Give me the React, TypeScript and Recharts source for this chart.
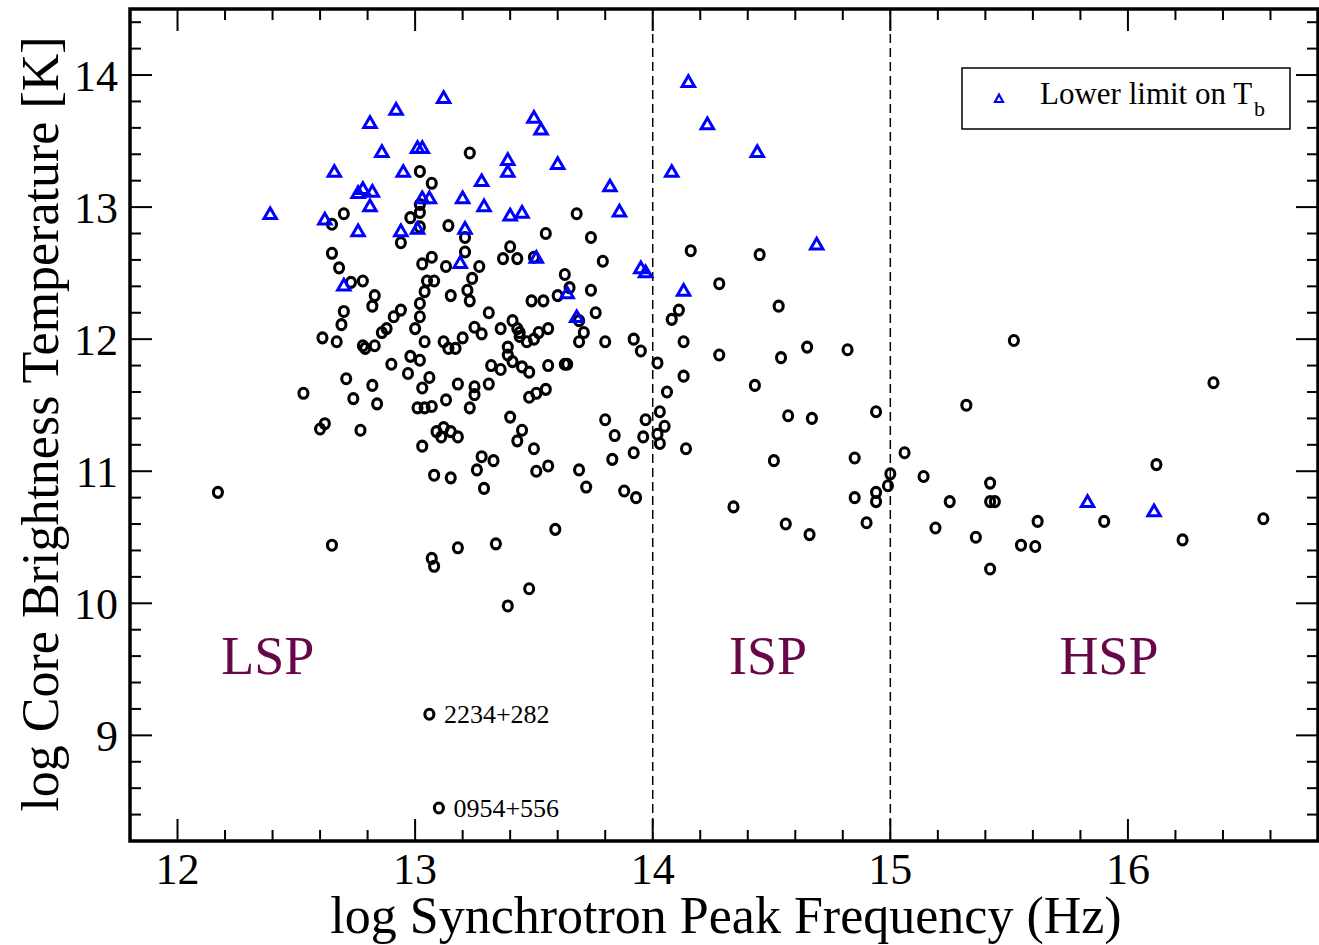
import {
  ScatterChart,
  Scatter,
  XAxis,
  YAxis,
  ReferenceLine,
  ReferenceArea,
  ReferenceDot,
  LabelList,
  Legend,
} from "recharts";

// log nu_peak (Hz), log T_b (K) for sources with a measured core
const detections: [number, number][] = [
  [13.23, 13.41], [13.02, 13.27], [13.07, 13.18], [13.02, 13.02], [13.02, 12.96],
  [12.98, 12.92], [13.02, 12.85], [13.14, 12.86], [12.7, 12.95], [12.65, 12.87],
  [12.94, 12.73], [13.21, 12.77], [13.21, 12.66], [12.65, 12.65], [12.68, 12.54],
  [13.03, 12.57], [13.07, 12.62], [13.13, 12.55], [13.27, 12.55], [12.73, 12.43],
  [12.78, 12.44], [13.05, 12.44], [13.08, 12.44], [13.24, 12.46], [13.22, 12.37],
  [13.4, 12.7], [13.37, 12.61], [13.43, 12.61], [13.5, 12.62], [12.83, 12.33],
  [12.82, 12.25], [12.7, 12.21], [13.04, 12.36], [13.02, 12.27], [13.23, 12.29],
  [13.15, 12.33], [13.31, 12.2], [12.94, 12.22], [12.91, 12.17], [13.02, 12.17],
  [13.49, 12.29], [13.54, 12.29], [13.41, 12.14], [12.69, 12.11], [12.61, 12.01],
  [12.67, 11.98], [12.78, 11.95], [12.79, 11.93], [12.83, 11.95], [12.86, 12.05],
  [12.88, 12.08], [13.0, 12.08], [13.04, 11.98], [13.12, 11.98], [13.14, 11.93],
  [13.17, 11.93], [13.2, 12.01], [13.25, 12.09], [13.28, 12.04], [13.36, 12.08],
  [13.43, 12.08], [13.44, 12.05], [13.44, 12.02], [13.47, 11.98], [13.5, 12.0],
  [13.52, 12.05], [13.56, 12.08], [13.39, 11.94], [13.39, 11.88], [13.41, 11.83],
  [13.32, 11.8], [13.36, 11.77], [13.45, 11.79], [13.48, 11.75], [13.56, 11.8],
  [13.63, 11.81], [13.64, 11.81], [13.69, 11.98], [13.71, 12.05], [13.69, 12.14],
  [13.76, 12.2], [13.74, 12.37], [13.6, 12.33], [13.65, 12.39], [13.63, 12.49],
  [13.68, 12.95], [13.55, 12.8], [13.74, 12.77], [13.79, 12.59], [13.8, 11.98],
  [13.92, 12.0], [13.95, 11.91], [14.02, 11.82], [14.06, 11.6], [12.9, 11.81],
  [12.98, 11.87], [13.02, 11.84], [12.97, 11.74], [13.06, 11.71], [13.03, 11.63],
  [12.71, 11.7], [12.82, 11.65], [12.53, 11.59], [12.74, 11.55], [12.84, 11.51],
  [13.01, 11.48], [13.04, 11.48], [13.07, 11.49], [13.13, 11.54], [13.18, 11.66],
  [13.25, 11.64], [13.25, 11.58], [13.31, 11.66], [13.23, 11.48], [13.4, 11.41],
  [13.48, 11.56], [13.51, 11.59], [13.55, 11.62], [12.62, 11.36], [12.6, 11.32],
  [12.77, 11.31], [13.03, 11.19], [13.09, 11.3], [13.12, 11.33], [13.11, 11.26],
  [13.15, 11.3], [13.18, 11.26], [13.45, 11.31], [13.43, 11.23], [13.5, 11.17],
  [13.28, 11.11], [13.33, 11.08], [13.26, 11.01], [13.08, 10.97], [13.15, 10.95],
  [13.29, 10.87], [13.51, 11.0], [13.56, 11.04], [13.69, 11.01], [13.72, 10.88],
  [13.8, 11.39], [13.84, 11.27], [13.83, 11.09], [13.92, 11.14], [13.96, 11.26],
  [13.97, 11.39], [14.03, 11.45], [14.05, 11.34], [14.02, 11.28], [14.03, 11.21],
  [13.88, 10.85], [13.93, 10.8], [13.59, 10.56], [12.65, 10.44], [13.18, 10.42],
  [13.34, 10.45], [13.07, 10.34], [13.08, 10.28], [13.39, 9.98], [13.48, 10.11],
  [12.17, 10.84], [14.16, 12.67], [14.45, 12.64], [14.28, 12.42], [14.53, 12.25],
  [14.11, 12.22], [14.08, 12.15], [14.13, 11.98], [14.28, 11.88], [14.54, 11.86],
  [14.65, 11.94], [14.82, 11.92], [14.13, 11.72], [14.43, 11.65], [14.14, 11.17],
  [14.57, 11.42], [14.67, 11.4], [14.94, 11.45], [14.51, 11.08], [14.85, 11.1],
  [14.34, 10.73], [14.85, 10.8], [14.94, 10.84], [14.94, 10.77], [14.56, 10.6],
  [14.66, 10.52], [14.9, 10.61], [15.06, 11.14], [15.0, 10.98], [14.99, 10.89],
  [15.14, 10.96], [15.19, 10.57], [15.25, 10.77], [15.32, 11.5], [15.36, 10.5],
  [15.42, 10.91], [15.42, 10.77], [15.44, 10.77], [15.42, 10.26], [15.52, 11.99],
  [15.55, 10.44], [15.61, 10.43], [15.62, 10.62], [15.9, 10.62], [16.12, 11.05],
  [16.23, 10.48], [16.36, 11.67], [16.57, 10.64],
];

// lower limits on T_b
const lowerLimits: [number, number][] = [
  [12.39, 12.95], [12.62, 12.91], [12.66, 13.27], [12.7, 12.41], [12.76, 12.82],
  [12.76, 13.11], [12.78, 13.14], [12.81, 13.01], [12.82, 13.12], [12.81, 13.64],
  [12.86, 13.42], [12.92, 13.74], [12.94, 12.82], [12.95, 13.27], [13.01, 13.45],
  [13.03, 13.45], [13.01, 12.84], [13.03, 13.07], [13.06, 13.07], [13.12, 13.83],
  [13.2, 13.07], [13.21, 12.84], [13.19, 12.58], [13.28, 13.2], [13.29, 13.01],
  [13.39, 13.36], [13.39, 13.27], [13.4, 12.94], [13.45, 12.96], [13.5, 13.68],
  [13.53, 13.59], [13.51, 12.62], [13.6, 13.33], [13.64, 12.35], [13.68, 12.17],
  [13.82, 13.16], [13.86, 12.97], [13.95, 12.54], [13.97, 12.51], [14.08, 13.27],
  [14.15, 13.95], [14.23, 13.63], [14.13, 12.37], [14.44, 13.42], [14.69, 12.72],
  [15.83, 10.77], [16.11, 10.7],
];

// two outliers that carry a name in the plot
const namedSources = ["2234+282", "0954+556"];
const namedX = [13.06, 13.1];
const namedY = [9.16, 8.45];

const regionNames = ["LSP", "ISP", "HSP"];
const regionX = [12.38, 14.485, 15.92];
const regionY = 9.61;

const boundaries = [14, 15];

const xTicks = [12, 13, 14, 15, 16];
const yTicks = [9, 10, 11, 12, 13, 14];
const X_DOM: [number, number] = [11.8, 16.8];
const Y_DOM: [number, number] = [8.2, 14.5];

const FONT = "'Liberation Serif', 'Times New Roman', serif";
const MAROON = "#670748";
const BLUE = "#0000ff";

// plot area is 1188 x 832 px
const UX = (X_DOM[1] - X_DOM[0]) / 1188;
const UY = (Y_DOM[1] - Y_DOM[0]) / 832;

const minorX: number[] = [];
for (let i = 0; i < 24; i++) {
  const v = Math.round((12 + i * 0.2) * 10) / 10;
  if (!Number.isInteger(v)) minorX.push(v);
}
const minorY: number[] = [];
for (let i = 0; i < 31; i++) {
  const v = Math.round((8.4 + i * 0.2) * 10) / 10;
  if (!Number.isInteger(v)) minorY.push(v);
}

type Seg = [{ x: number; y: number }, { x: number; y: number }];
const tickSegs: Seg[] = [];
const addX = (v: number, len: number) => {
  tickSegs.push([{ x: v, y: Y_DOM[0] }, { x: v, y: Y_DOM[0] + len * UY }]);
  tickSegs.push([{ x: v, y: Y_DOM[1] }, { x: v, y: Y_DOM[1] - len * UY }]);
};
const addY = (v: number, len: number) => {
  tickSegs.push([{ x: X_DOM[0], y: v }, { x: X_DOM[0] + len * UX, y: v }]);
  tickSegs.push([{ x: X_DOM[1], y: v }, { x: X_DOM[1] - len * UX, y: v }]);
};
xTicks.forEach((v) => addX(v, 22));
minorX.forEach((v) => addX(v, 11));
yTicks.forEach((v) => addY(v, 22));
minorY.forEach((v) => addY(v, 11));

const ringData = detections.map(([x, y]) => ({ x, y }));
const limitData = lowerLimits.map(([x, y]) => ({ x, y }));
const namedData = namedSources.map((name, i) => ({ name, x: namedX[i], y: namedY[i] }));

const Ring = (p: any) => (
  <ellipse cx={p.cx} cy={p.cy} rx={4.5} ry={5} fill="none" stroke="#000" strokeWidth={3.1} />
);

const Tri = (p: any) => (
  <polygon
    points={`${p.cx},${p.cy - 5.8} ${p.cx - 6.2},${p.cy + 4.9} ${p.cx + 6.2},${p.cy + 4.9}`}
    fill="none"
    stroke={BLUE}
    strokeWidth={3}
  />
);

const LegendBox = () => (
  <svg width={331} height={64}>
    <rect x={1} y={1} width={328} height={61} fill="#fff" stroke="#000" strokeWidth={1.5} />
    <polygon points="38,27.5 34,35 42,35" fill="none" stroke={BLUE} strokeWidth={2.2} />
    <text x={79} y={37} fontFamily={FONT} fontSize={31} fill="#000">
      Lower limit on T
      <tspan dx={2} dy={12} fontSize={22}>b</tspan>
    </text>
  </svg>
);

const XTitle = () => (
  <text x={726} y={933} textAnchor="middle" fontFamily={FONT} fontSize={52} fill="#000">
    log Synchrotron Peak Frequency (Hz)
  </text>
);

const YTitle = () => (
  <text
    transform="rotate(-90)"
    x={-424}
    y={58}
    textAnchor="middle"
    fontFamily={FONT}
    fontSize={52}
    fill="#000"
  >
    log Core Brightness Temperature [K]
  </text>
);

export default function App() {
  return (
    <div style={{ position: "absolute", left: 0, top: 0, width: 1319, height: 945, background: "#fff" }}>
      <ScatterChart width={1319} height={945} margin={{ top: 9, right: 1, bottom: 0, left: 0 }}>
        <XAxis
          type="number"
          dataKey="x"
          domain={X_DOM}
          ticks={xTicks}
          allowDataOverflow
          height={104}
          tickLine={false}
          axisLine={false}
          tickSize={0}
          tickMargin={12}
          tick={{ fontSize: 44, fill: "#000", fontFamily: FONT }}
          label={{ content: XTitle }}
        />
        <YAxis
          type="number"
          dataKey="y"
          domain={Y_DOM}
          ticks={yTicks}
          allowDataOverflow
          width={130}
          tickLine={false}
          axisLine={false}
          tickSize={0}
          tickMargin={12}
          tick={{ fontSize: 44, fill: "#000", fontFamily: FONT }}
          label={{ content: YTitle }}
        />
        {boundaries.map((b) => (
          <ReferenceLine key={b} x={b} stroke="#000" strokeWidth={1.5} strokeDasharray="9 5" />
        ))}
        {tickSegs.map((s, i) => (
          <ReferenceLine key={`t${i}`} segment={s} stroke="#000" strokeWidth={2} ifOverflow="visible" />
        ))}
        {regionNames.map((name, i) => (
          <ReferenceDot
            key={name}
            x={regionX[i]}
            y={regionY}
            r={0}
            fill="none"
            stroke="none"
            label={{ value: name, position: "center", fill: MAROON, fontSize: 54, fontFamily: FONT }}
          />
        ))}
        <Scatter data={ringData} shape={Ring} isAnimationActive={false} />
        <Scatter data={namedData} shape={Ring} isAnimationActive={false}>
          <LabelList dataKey="name" position="right" offset={10} fontSize={26} fill="#000" fontFamily={FONT} />
        </Scatter>
        <Scatter data={limitData} shape={Tri} isAnimationActive={false} />
        <ReferenceArea
          x1={X_DOM[0]}
          x2={X_DOM[1]}
          y1={Y_DOM[0]}
          y2={Y_DOM[1]}
          fill="none"
          stroke="#000"
          strokeWidth={3.5}
          ifOverflow="visible"
        />
        <Legend
          layout="vertical"
          align="center"
          verticalAlign="middle"
          wrapperStyle={{ left: 961, top: 67, width: 331, height: 64 }}
          content={LegendBox}
        />
      </ScatterChart>
    </div>
  );
}
